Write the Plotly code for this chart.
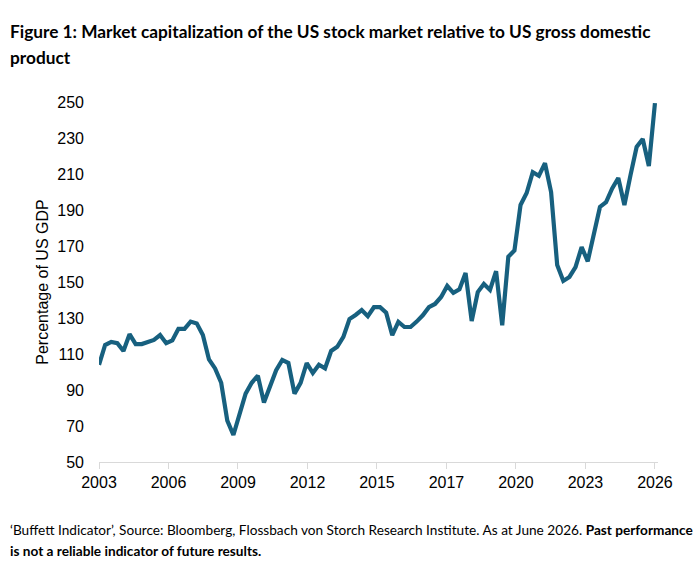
import plotly.graph_objects as go

# Quarterly Buffett indicator values (% of US GDP)
values = [
    104, 115, 116.7, 116, 111.7, 121, 115.5, 115.5, 116.7, 117.8,
    120.5, 116, 117.5, 124, 124, 128, 127, 120.5, 107, 102,
    94, 73, 65, 77, 88, 94, 98, 83, 91.7, 101,
    106.7, 105, 88, 94, 105, 99.4, 104, 102, 111.7, 114,
    119.5, 129.4, 131.7, 134.4, 131, 136, 136, 133, 120.5, 127.8,
    125, 125, 128, 131.5, 136, 137.8, 141.7, 147.8, 144, 146,
    155, 128.3, 144.4, 148.9, 145.6, 156, 126, 164, 167.5, 192.8,
    199.4, 211, 209, 216, 200, 159.4, 150.6, 152.8, 158.3, 169.4,
    161.5, 176, 191.7, 194.4, 202, 207.8, 192.8, 209.4, 225, 229.4,
    214.4, 249.4,
]
tick_labels = ["2003", "2006", "2009", "2012", "2015", "2017", "2020", "2023", "2026"]
y_ticks = [50, 70, 90, 110, 130, 150, 170, 190, 210, 230, 250]

title_lines = [
    "Figure 1: Market capitalization of the US stock market relative to US gross domestic",
    "product",
]
footnote_lines = [
    "‘Buffett Indicator’, Source: Bloomberg, Flossbach von Storch Research Institute. As at June 2026. <b>Past performance</b>",
    "<b>is not a reliable indicator of future results.</b>",
]

x_idx = list(range(len(values)))
n_last = len(values) - 1
tick_pos = [i * n_last / (len(tick_labels) - 1) for i in range(len(tick_labels))]

W, H = 697, 583
L, R, T, B = 99, 39, 102, 121
plot_w = W - L - R
plot_h = H - T - B

def px_x(p):
    return (p - L) / plot_w

def px_y(p):
    return (H - B - p) / plot_h

fig = go.Figure()
fig.add_trace(go.Scatter(
    x=x_idx, y=values, mode="lines",
    line=dict(color="#17607f", width=4.2),
    hoverinfo="skip", showlegend=False,
))

annotations = []
for line, cy in zip(title_lines, [31, 57]):
    annotations.append(dict(
        text="<b>" + line + "</b>",
        xref="paper", yref="paper", x=px_x(8), y=px_y(cy),
        xanchor="left", yanchor="middle", align="left", showarrow=False,
        font=dict(family="Lato, sans-serif", size=17.25, color="#000000"),
    ))
for line, cy in zip(footnote_lines, [530, 551]):
    annotations.append(dict(
        text=line,
        xref="paper", yref="paper", x=px_x(8), y=px_y(cy),
        xanchor="left", yanchor="middle", align="left", showarrow=False,
        font=dict(family="Lato, sans-serif", size=13.65, color="#000000"),
    ))

fig.update_layout(
    width=W, height=H,
    margin=dict(l=L, r=R, t=T, b=B),
    paper_bgcolor="white", plot_bgcolor="white",
    font=dict(family="Liberation Sans, Arial, sans-serif", size=16, color="#000000"),
    xaxis=dict(
        range=[0, n_last + 0.5],
        tickvals=tick_pos, ticktext=tick_labels,
        showgrid=False, zeroline=False,
        showline=True, linecolor="#d9d9d9", linewidth=1,
        ticks="outside", tickcolor="#d9d9d9", ticklen=6, tickwidth=1,
        tickfont=dict(size=16),
    ),
    yaxis=dict(
        range=[50, 250],
        tickvals=y_ticks,
        showgrid=False, zeroline=False, showline=False,
        ticks="", ticklabelstandoff=14,
        tickfont=dict(size=16),
        title=dict(text="Percentage of US GDP", font=dict(size=16), standoff=4),
    ),
    annotations=annotations,
)

fig.write_html("out.html")
